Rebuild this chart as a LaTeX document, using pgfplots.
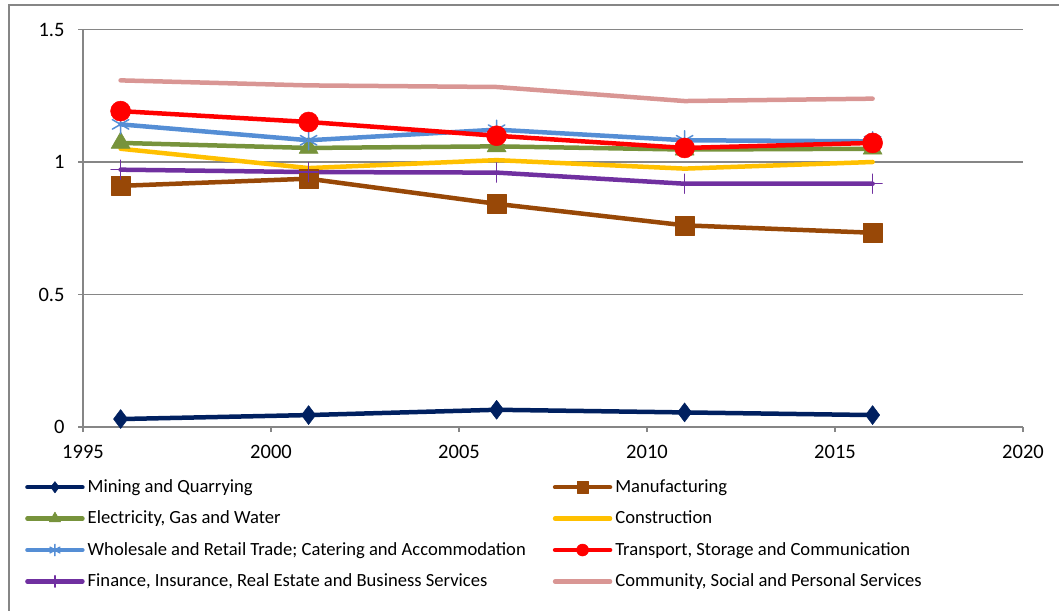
\documentclass[border=0pt]{standalone}
\usepackage{pgfplots}
\pgfplotsset{compat=1.18}
\usepackage{fontspec}
\setmainfont{Carlito}
\definecolor{cMin}{HTML}{002060}
\definecolor{cMan}{HTML}{984807}
\definecolor{cEle}{HTML}{77933C}
\definecolor{cCon}{HTML}{FFC000}
\definecolor{cWho}{HTML}{558ED5}
\definecolor{cTra}{HTML}{FF0000}
\definecolor{cFin}{HTML}{7030A0}
\definecolor{cCom}{HTML}{D99694}
\definecolor{gridgray}{HTML}{868686}
\begin{document}
\begin{tikzpicture}
\path[use as bounding box] (0pt,0pt) rectangle (1059pt,610pt);
\draw[gridgray, line width=2pt] (8.5pt,-20pt) rectangle (1080pt,605pt);
\begin{axis}[
  at={(83pt,183pt)}, anchor=south west,
  scale only axis, width=940pt, height=397.5pt,
  xmin=1995, xmax=2020, ymin=0, ymax=1.5,
  xtick={1995,2000,2005,2010,2015,2020},
  ytick={0,0.5,1,1.5},
  axis x line*=bottom, axis y line*=left,
  axis line style={-, draw=gridgray, line width=1.5pt},
  tick align=outside, major tick length=5pt,
  tick style={draw=gridgray, line width=1.5pt},
  ymajorgrids, major grid style={draw=gridgray, line width=1.5pt},
  /pgf/number format/assume math mode=true,
  /pgf/number format/1000 sep={},
  tick label style={font=\fontsize{20.5}{24}\selectfont, black},
  yticklabel style={xshift=-10pt},
  xticklabel style={yshift=-10pt},
  every axis plot/.append style={line width=4.5pt, line join=round, line cap=round},
  legend columns=2,
  legend cell align=left,
  legend image code/.code={\draw[mark repeat=2,mark phase=2] plot coordinates {(0pt,0pt)(27.5pt,0pt)(55pt,0pt)};},
  legend image post style={every mark/.append style={scale=0.6}},
  legend style={draw=none, fill=none, inner sep=0pt,
    at={(-0.0617,-0.1208)}, anchor=north west,
    font=\fontsize{18.6}{22}\selectfont,
    row sep=7.4pt,
    nodes={inner xsep=3pt, inner ysep=2pt, text height=15pt, text depth=5pt},
    /tikz/every even column/.append style={column sep=24pt}},
  clip=false,
]
\addplot[cMin, mark=diamond*, mark size=9.5pt, mark options={solid, fill=cMin, line width=0.5pt}]
  coordinates {(1996,0.03) (2001,0.045) (2006,0.065) (2011,0.055) (2016,0.045)};
\addlegendentry{Mining and Quarrying}
\addplot[cMan, mark=square*, mark size=9.5pt, mark options={solid, fill=cMan, line width=0.5pt}]
  coordinates {(1996,0.91) (2001,0.937) (2006,0.842) (2011,0.761) (2016,0.733)};
\addlegendentry{Manufacturing}
\addplot[cEle, mark=triangle*, mark size=11pt, mark options={solid, fill=cEle, line width=0.5pt}]
  coordinates {(1996,1.072) (2001,1.053) (2006,1.059) (2011,1.047) (2016,1.05)};
\addlegendentry{Electricity, Gas and Water}
\addplot[cCon]
  coordinates {(1996,1.05) (2001,0.977) (2006,1.007) (2011,0.975) (2016,1.0)};
\addlegendentry{Construction}
\addplot[cWho, mark=asterisk, mark size=9.5pt, mark options={solid, line width=1.5pt}]
  coordinates {(1996,1.142) (2001,1.082) (2006,1.122) (2011,1.082) (2016,1.078)};
\addlegendentry{Wholesale and Retail Trade; Catering and Accommodation}
\addplot[cTra, mark=*, mark size=10pt, mark options={solid, fill=cTra, line width=0.5pt}]
  coordinates {(1996,1.192) (2001,1.151) (2006,1.099) (2011,1.053) (2016,1.072)};
\addlegendentry{Transport, Storage and Communication}
\addplot[cFin, mark=+, mark size=9.5pt, mark options={solid, line width=1.5pt}]
  coordinates {(1996,0.971) (2001,0.962) (2006,0.96) (2011,0.918) (2016,0.918)};
\addlegendentry{Finance, Insurance, Real Estate and Business Services}
\addplot[cCom]
  coordinates {(1996,1.308) (2001,1.289) (2006,1.283) (2011,1.23) (2016,1.239)};
\addlegendentry{Community, Social and Personal Services}
\end{axis}
\end{tikzpicture}
\end{document}
